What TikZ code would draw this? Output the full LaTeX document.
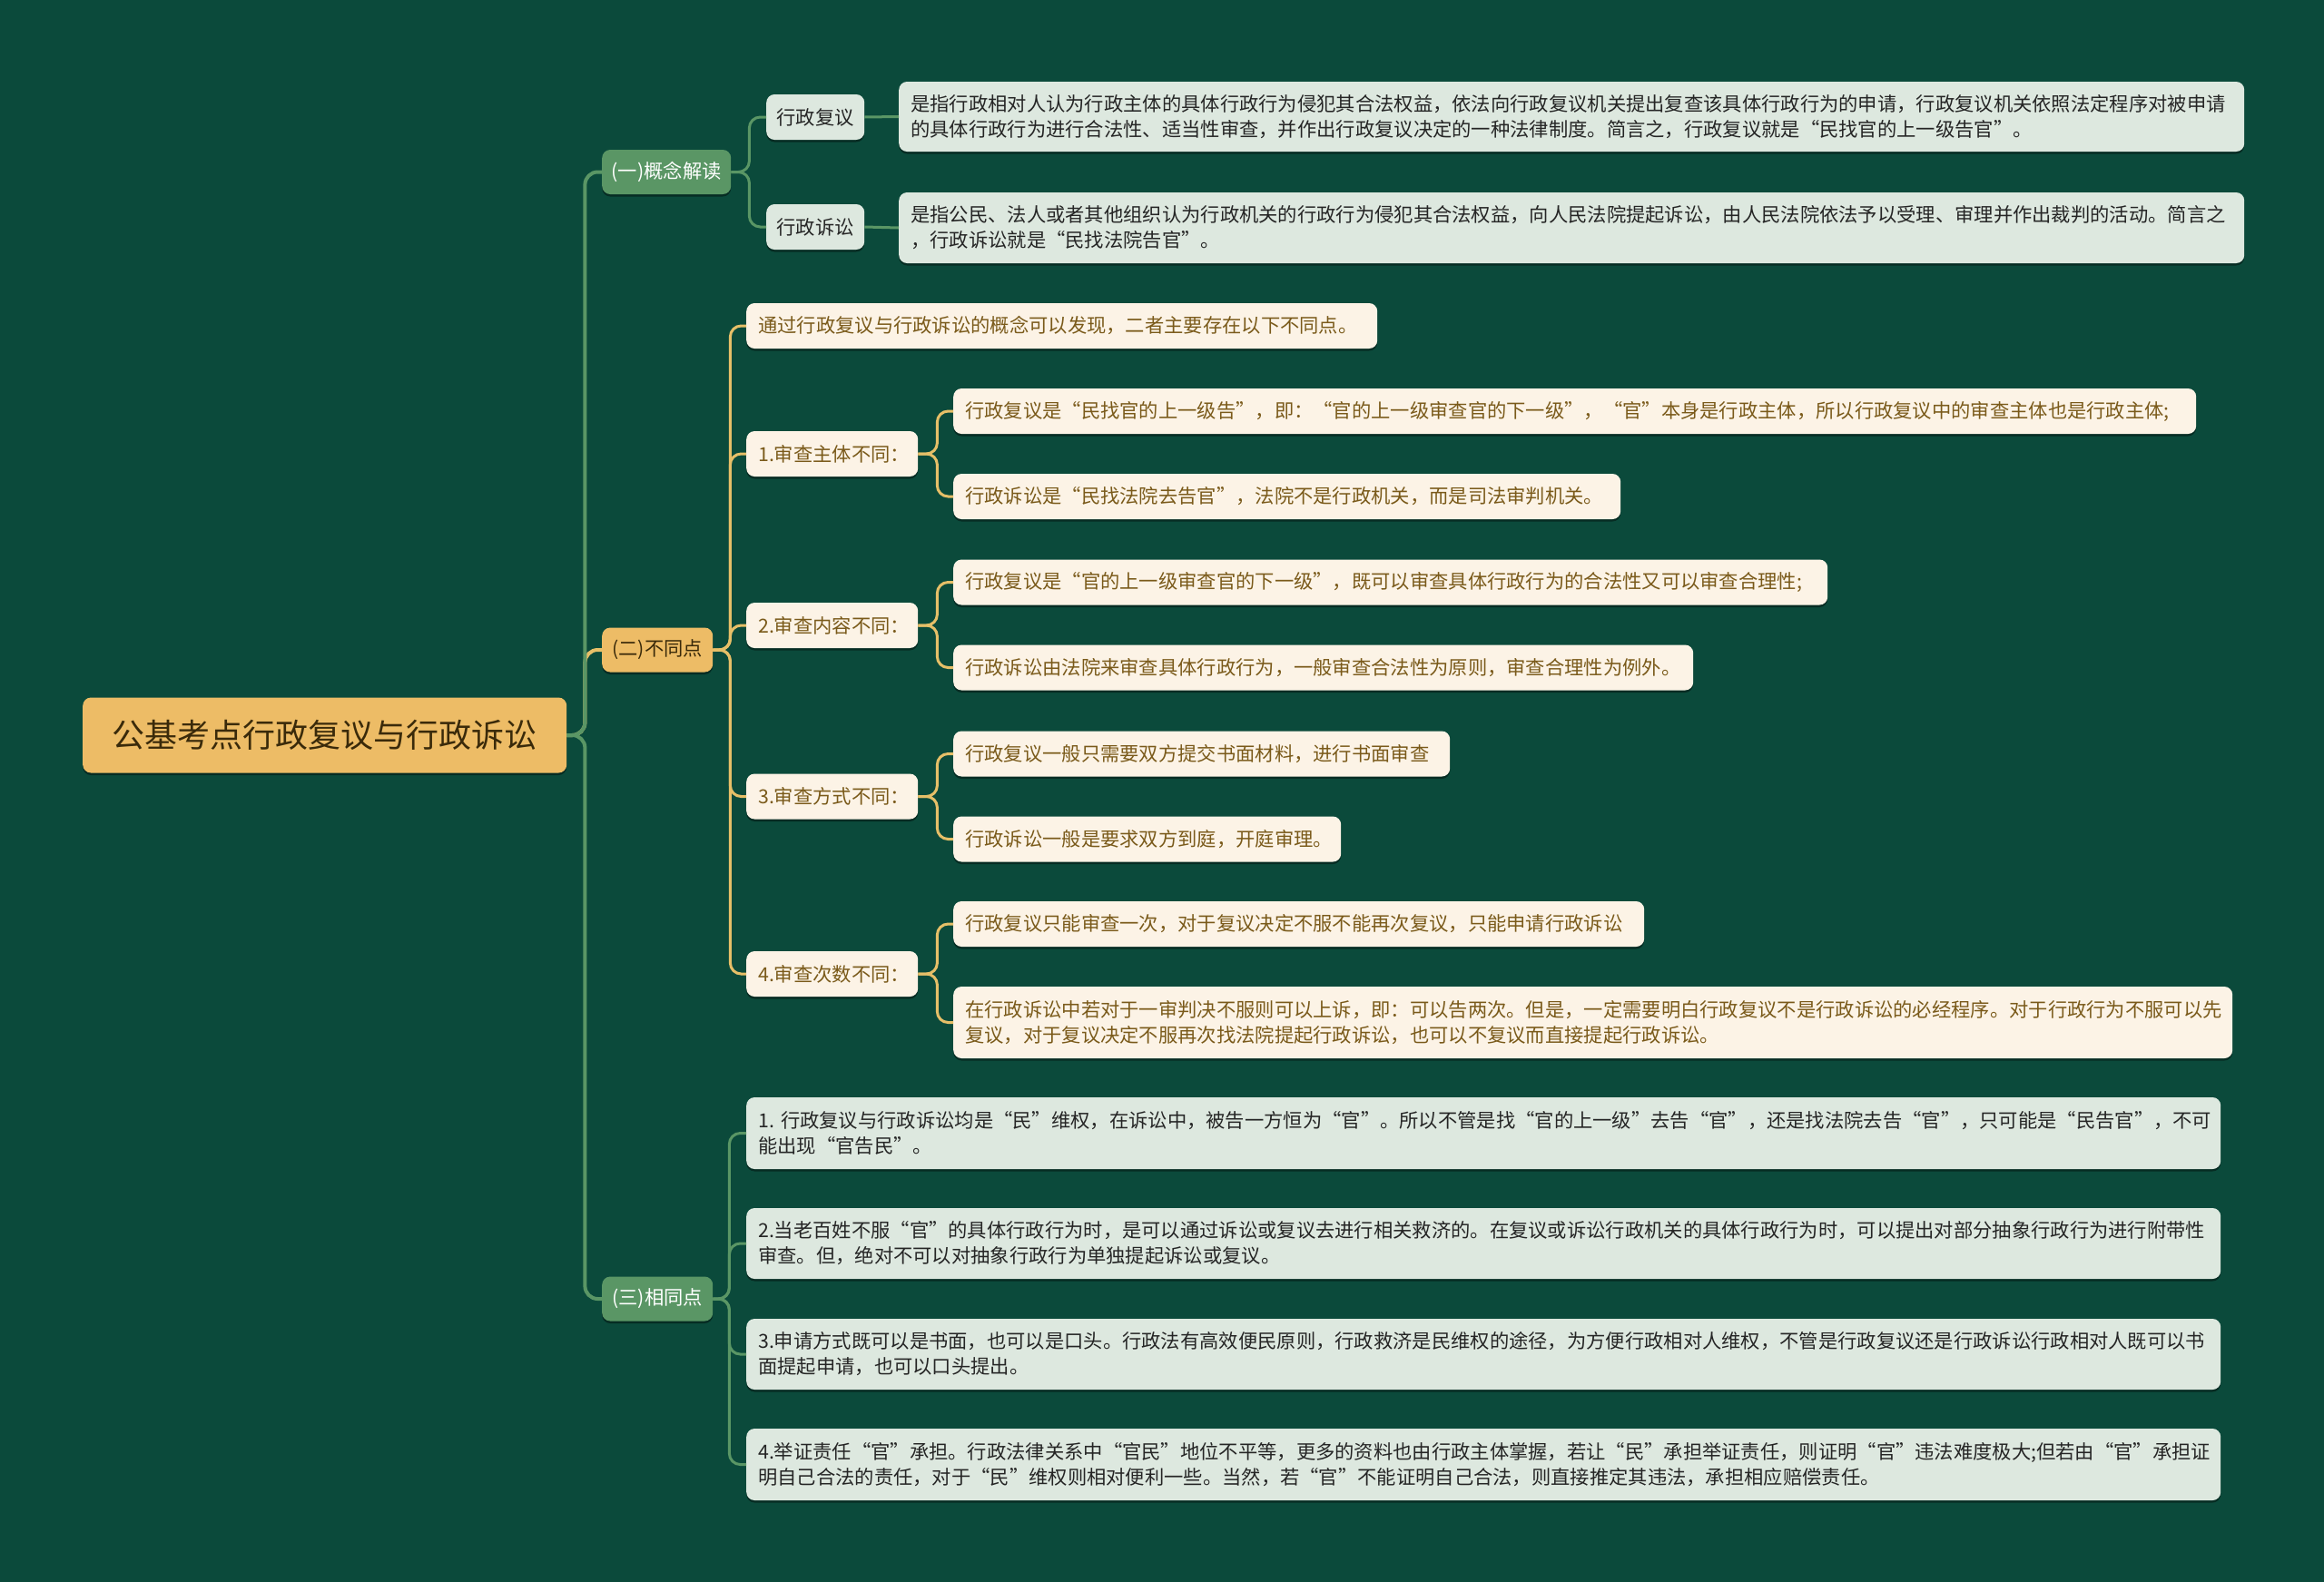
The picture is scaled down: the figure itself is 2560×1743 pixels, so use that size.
\documentclass[tikz,border=0pt]{standalone}
\usepackage{fontspec}
\setmainfont{Noto Sans CJK SC}
\usetikzlibrary{shadows}
\definecolor{bg}{HTML}{0B4A3B}
\definecolor{gold}{HTML}{EDBC66}
\definecolor{gnode}{HTML}{5A9665}
\definecolor{cream}{HTML}{FCF3E6}
\definecolor{pale}{HTML}{DDE8DF}
\definecolor{brownink}{HTML}{7A5A1A}
\definecolor{darkink}{HTML}{3A2A0A}
\definecolor{greyink}{HTML}{252525}
\definecolor{gline}{HTML}{5A9665}
\definecolor{yline}{HTML}{E6BF68}
\tikzset{
  shadowed/.style={drop shadow={shadow xshift=0pt,shadow yshift=-2.5pt,opacity=0.4,fill=black}},
  basebox/.style={shadowed, rounded corners=9pt, anchor=west, inner ysep=0pt,
    font=\fontsize{21.3}{28}\selectfont},
  rootbox/.style={shadowed, rounded corners=9pt, anchor=west, fill=gold, text=darkink,
    minimum width=533pt, minimum height=83pt, inner sep=0pt, font=\fontsize{36}{40}\selectfont},
  topgreen/.style={basebox, fill=gnode, text=white, inner xsep=0pt, minimum height=49pt, align=center},
  topgold/.style={basebox, fill=gold, text=darkink, inner xsep=0pt, minimum height=49pt, align=center},
  palelabel/.style={basebox, fill=pale, text=greyink, inner xsep=0pt, minimum height=50pt, minimum width=108pt, align=center},
  palebox/.style={basebox, fill=pale, text=greyink, inner xsep=13pt, minimum height=50pt, align=left},
  creambox/.style={basebox, fill=cream, text=brownink, inner xsep=13pt, minimum height=50pt, align=left},
  lineA/.style={line width=4pt, rounded corners=14pt},
  lineB/.style={line width=3pt, rounded corners=12pt},
}
\begin{document}
\begin{tikzpicture}[x=1pt,y=-1pt]
\fill[bg] (0,0) rectangle (2560,1743);
\useasboundingbox (0,0) rectangle (2560,1743);

% root and first level
\node[rootbox] (root) at (91,810) {公基考点行政复议与行政诉讼};
\node[topgreen, minimum width=142pt] (c1) at (663,189.5) {(一)概念解读};
\node[topgold, minimum width=122pt] (c2) at (663,716) {(二)不同点};
\node[topgreen, minimum width=122pt] (c3) at (663,1431) {(三)相同点};

% (一) children
\node[palelabel] (a1) at (844,129) {行政复议};
\node[palelabel] (a2) at (844,250) {行政诉讼};
\node[palebox, text width=1456pt, minimum height=77pt] (d1) at (990,128.5)
  {是指行政相对人认为行政主体的具体行政行为侵犯其合法权益，依法向行政复议机关提出复查该具体行政行为的申请，行政复议机关依照法定程序对被申请\\的具体行政行为进行合法性、适当性审查，并作出行政复议决定的一种法律制度。简言之，行政复议就是“民找官的上一级告官”。};
\node[palebox, text width=1456pt, minimum height=78pt] (d2) at (990,251)
  {是指公民、法人或者其他组织认为行政机关的行政行为侵犯其合法权益，向人民法院提起诉讼，由人民法院依法予以受理、审理并作出裁判的活动。简言之\\，行政诉讼就是“民找法院告官”。};

% (二) children
\node[creambox, text width=669pt] (b0) at (822,359) {通过行政复议与行政诉讼的概念可以发现，二者主要存在以下不同点。};
\node[creambox, text width=163pt] (b1) at (822,500) {1.审查主体不同：};
\node[creambox, text width=163pt] (b2) at (822,689) {2.审查内容不同：};
\node[creambox, text width=163pt] (b3) at (822,877.5) {3.审查方式不同：};
\node[creambox, text width=163pt] (b4) at (822,1073) {4.审查次数不同：};

\node[creambox, text width=1343pt] (b1a) at (1050,453) {行政复议是“民找官的上一级告”，即：“官的上一级审查官的下一级”，“官”本身是行政主体，所以行政复议中的审查主体也是行政主体;};
\node[creambox, text width=709pt] (b1b) at (1050,547) {行政诉讼是“民找法院去告官”，法院不是行政机关，而是司法审判机关。};
\node[creambox, text width=937pt] (b2a) at (1050,641.5) {行政复议是“官的上一级审查官的下一级”，既可以审查具体行政行为的合法性又可以审查合理性;};
\node[creambox, text width=789pt] (b2b) at (1050,735.5) {行政诉讼由法院来审查具体行政行为，一般审查合法性为原则，审查合理性为例外。};
\node[creambox, text width=521pt] (b3a) at (1050,830.5) {行政复议一般只需要双方提交书面材料，进行书面审查};
\node[creambox, text width=401pt] (b3b) at (1050,924.5) {行政诉讼一般是要求双方到庭，开庭审理。};
\node[creambox, text width=735pt] (b4a) at (1050,1018) {行政复议只能审查一次，对于复议决定不服不能再次复议，只能申请行政诉讼};
\node[creambox, text width=1383pt, minimum height=79pt] (b4b) at (1050,1126.5)
  {在行政诉讼中若对于一审判决不服则可以上诉，即：可以告两次。但是，一定需要明白行政复议不是行政诉讼的必经程序。对于行政行为不服可以先\\复议，对于复议决定不服再次找法院提起行政诉讼，也可以不复议而直接提起行政诉讼。};

% (三) children
\node[palebox, text width=1598pt, minimum height=79pt] (s1) at (822,1248.5)
  {1.~行政复议与行政诉讼均是“民”维权，在诉讼中，被告一方恒为“官”。所以不管是找“官的上一级”去告“官”，还是找法院去告“官”，只可能是“民告官”，不可\\能出现“官告民”。};
\node[palebox, text width=1598pt, minimum height=78pt] (s2) at (822,1370)
  {2.当老百姓不服“官”的具体行政行为时，是可以通过诉讼或复议去进行相关救济的。在复议或诉讼行政机关的具体行政行为时，可以提出对部分抽象行政行为进行附带性\\审查。但，绝对不可以对抽象行政行为单独提起诉讼或复议。};
\node[palebox, text width=1598pt, minimum height=78pt] (s3) at (822,1492)
  {3.申请方式既可以是书面，也可以是口头。行政法有高效便民原则，行政救济是民维权的途径，为方便行政相对人维权，不管是行政复议还是行政诉讼行政相对人既可以书\\面提起申请，也可以口头提出。};
\node[palebox, text width=1598pt, minimum height=79pt] (s4) at (822,1613.5)
  {4.举证责任“官”承担。行政法律关系中“官民”地位不平等，更多的资料也由行政主体掌握，若让“民”承担举证责任，则证明“官”违法难度极大;但若由“官”承担证\\明自己合法的责任，对于“民”维权则相对便利一些。当然，若“官”不能证明自己合法，则直接推定其违法，承担相应赔偿责任。};

% connectors
\draw[lineA, yline] (root.east) -- ++(20,0) |- (c2.west);
\draw[lineA, gline] (root.east) -- ++(20,0) |- (c1.west);
\draw[lineA, gline] (root.east) -- ++(20,0) |- (c3.west);

\draw[lineB, gline] (c1.east) -- ++(20,0) |- (a1.west);
\draw[lineB, gline] (c1.east) -- ++(20,0) |- (a2.west);
\draw[lineB, gline] (a1.east) -- (d1.west);
\draw[lineB, gline] (a2.east) -- (d2.west);

\foreach \t in {b0,b1,b2,b3,b4}
  \draw[lineB, yline] (c2.east) -- ++(19,0) |- (\t.west);
\foreach \p in {1,2,3,4} {
  \draw[lineB, yline] (b\p.east) -- ++(21,0) |- (b\p a.west);
  \draw[lineB, yline] (b\p.east) -- ++(21,0) |- (b\p b.west);
}
\foreach \t in {s1,s2,s3,s4}
  \draw[lineB, gline] (c3.east) -- ++(18,0) |- (\t.west);
\end{tikzpicture}
\end{document}
